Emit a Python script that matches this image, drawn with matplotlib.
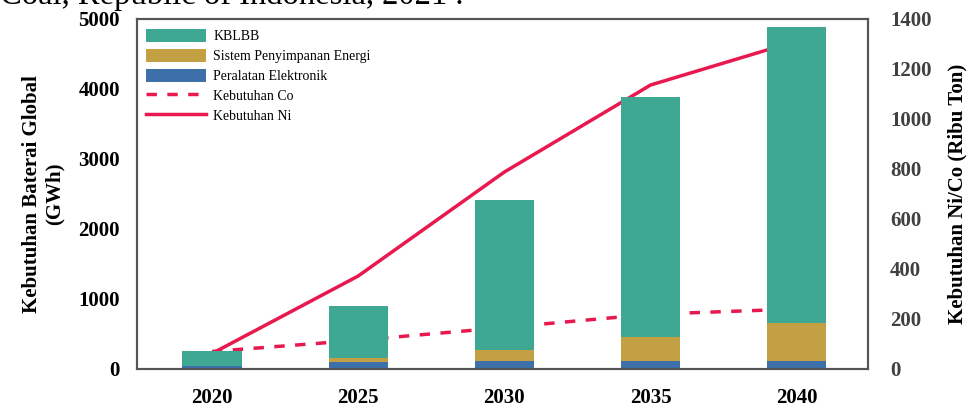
import numpy as np
import matplotlib.pyplot as plt

plt.rcParams['font.family'] = ['Liberation Serif', 'DejaVu Serif']

years = ['2020', '2025', '2030', '2035', '2040']
elektronik = [43, 96, 119, 119, 119]
penyimpanan = [5, 57, 150, 340, 540]
kblbb = [213, 751, 2145, 3427, 4227]
co_need = [70, 115, 166, 219, 240]
ni_need = [62, 372, 788, 1136, 1312]

c_teal = '#3ea892'
c_gold = '#c4a045'
c_blue = '#3d6fa8'
c_red = '#e8194f'

fig = plt.figure(figsize=(9.69, 4.09), dpi=100)
ax = fig.add_axes([136.7 / 969, 40 / 409, (868 - 136.7) / 969, 350 / 409])
ax2 = ax.twinx()
# bars in front of the lines
ax.set_zorder(ax2.get_zorder() + 1)
ax.patch.set_visible(False)

x = np.arange(len(years))
w = 0.405
b1 = ax.bar(x, elektronik, w, color=c_blue)
b2 = ax.bar(x, penyimpanan, w, bottom=elektronik, color=c_gold)
bot = np.array(elektronik) + np.array(penyimpanan)
b3 = ax.bar(x, kblbb, w, bottom=bot, color=c_teal)

l1, = ax2.plot(x, co_need, '--', color=c_red, lw=2.5, dashes=(3, 3))
l2, = ax2.plot(x, ni_need, '-', color=c_red, lw=2.5)

ax.set_xlim(-0.515, 4.487)
ax.set_ylim(0, 5000)
ax2.set_ylim(0, 1400)
ax.set_xticks(x)
ax.set_xticklabels(years)
ax.set_yticks(range(0, 5001, 1000))
ax2.set_yticks(range(0, 1401, 200))

for a in (ax, ax2):
    for sp in a.spines.values():
        sp.set_color('#555555')
        sp.set_linewidth(1.5)

ax.tick_params(axis='x', length=0, pad=14, labelsize=15)
ax.tick_params(axis='y', length=0, pad=12, labelsize=15)
ax2.tick_params(axis='y', length=0, pad=16, labelsize=15, labelcolor='#404040')
for t in ax.get_xticklabels() + ax.get_yticklabels() + ax2.get_yticklabels():
    t.set_fontweight('bold')

ax.set_ylabel('Kebutuhan Baterai Global\n(GWh)', fontsize=15, fontweight='bold', labelpad=10)
ax2.set_ylabel('Kebutuhan Ni/Co (Ribu Ton)', fontsize=15, fontweight='bold', labelpad=11)

ax.legend([b3, b2, b1, l1, l2],
          ['KBLBB', 'Sistem Penyimpanan Energi', 'Peralatan Elektronik', 'Kebutuhan Co', 'Kebutuhan Ni'],
          loc='upper left', frameon=False, fontsize=10, handlelength=4.3, handleheight=1.1,
          labelspacing=0.4, handletextpad=0.5, borderaxespad=0.3, bbox_to_anchor=(0.0, 1.0))

# caption line from the page above, cut off at the top edge
fig.text(0.0, 1 - 4 / 409, 'Coal, Republic of Indonesia, 2021 .', fontsize=23.5, va='baseline', ha='left')

fig.savefig('out.png', dpi=100)
